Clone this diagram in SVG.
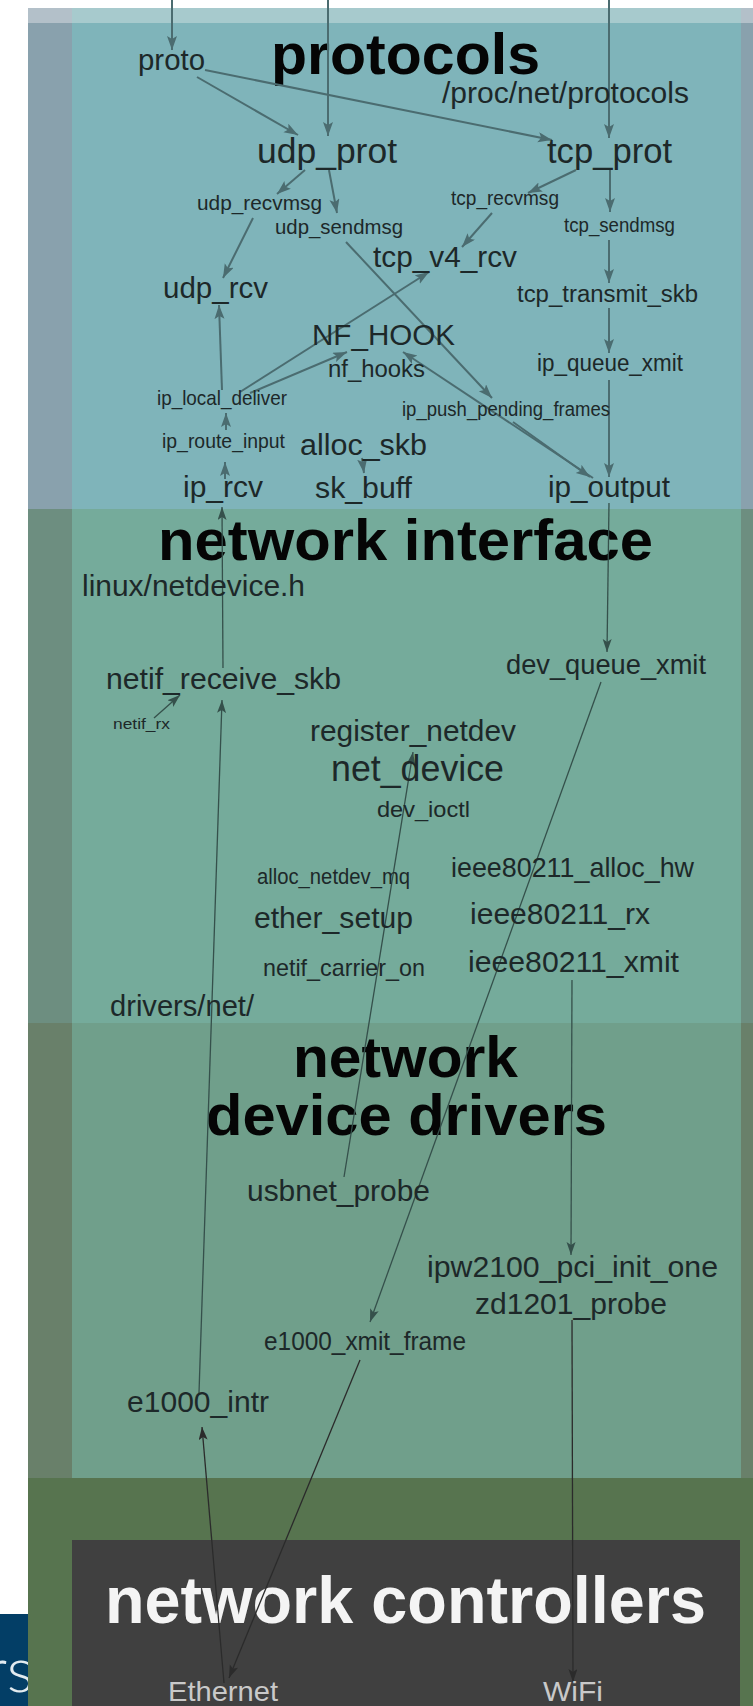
<svg xmlns="http://www.w3.org/2000/svg" width="753" height="1706" viewBox="0 0 753 1706">
  <defs>
    <style>
      text { font-family: "Liberation Sans", Arial, sans-serif; fill: #1d2829; }
      .title { font-weight: bold; fill: #050505; }
      .ctl { font-weight: bold; fill: #f4f4f4; }
      .hw { fill: #c9c9c9; }
      .side { font-family: Lato, "Open Sans", "Liberation Sans", sans-serif; font-weight: 300; fill: #e3ebf0; }
      .c1 { fill: none; stroke: #4b6c70; stroke-width: 2; }
      .c2 { fill: none; stroke: #35504b; stroke-width: 1.3; }
      .c3 { fill: none; stroke: #2b2b2b; stroke-width: 1.3; }
    </style>
    <marker id="ah1" markerUnits="userSpaceOnUse" markerWidth="16" markerHeight="12" refX="14" refY="5" orient="auto">
      <path d="M0,0 L14,5 L0,10 L3,5 z" fill="#4b6c70"/>
    </marker>
    <marker id="ah2" markerUnits="userSpaceOnUse" markerWidth="16" markerHeight="12" refX="13" refY="4.5" orient="auto">
      <path d="M0,0 L13,4.5 L0,9 L3,4.5 z" fill="#35504b"/>
    </marker>
    <marker id="ah3" markerUnits="userSpaceOnUse" markerWidth="16" markerHeight="12" refX="13" refY="4.5" orient="auto">
      <path d="M0,0 L13,4.5 L0,9 L3,4.5 z" fill="#2b2b2b"/>
    </marker>
    <clipPath id="sideClip"><rect x="0" y="1614" width="28" height="92"/></clipPath>
  </defs>

  <!-- page -->
  <rect x="0" y="0" width="753" height="1706" fill="#ffffff"/>

  <!-- layer bands: outer column and inner panel per layer -->
  <g id="layers">
    <rect x="28" y="8" width="725" height="15" fill="#b3c0c9"/>
    <rect x="72" y="8" width="669" height="15" fill="#a7cacd"/>
    <rect x="28" y="23" width="725" height="486" fill="#89a1ad"/>
    <rect x="72" y="23" width="669" height="486" fill="#7fb4ba"/>
    <rect x="28" y="509" width="725" height="514" fill="#6d8e80"/>
    <rect x="72" y="509" width="669" height="514" fill="#75ab9b"/>
    <rect x="28" y="1023" width="725" height="455" fill="#69806a"/>
    <rect x="72" y="1023" width="669" height="455" fill="#709f8b"/>
    <rect x="28" y="1478" width="725" height="228" fill="#57744f"/>
    <rect x="72" y="1540" width="668" height="166" fill="#404040"/>
    <rect x="0" y="1614" width="28" height="92" fill="#033e66"/>
    <text class="side" x="34" y="1692" font-size="64" text-anchor="end" clip-path="url(#sideClip)">rs</text>
  </g>

  <!-- layer titles -->
  <g id="t-protocols"><text class="title" x="271" y="74" font-size="58" textLength="269" lengthAdjust="spacingAndGlyphs">protocols</text></g>
  <g id="t-netif"><text class="title" x="158" y="560" font-size="58" textLength="495" lengthAdjust="spacingAndGlyphs">network interface</text></g>
  <g id="t-drivers">
    <text class="title" x="293" y="1077" font-size="58" textLength="225" lengthAdjust="spacingAndGlyphs">network</text>
    <text class="title" x="206" y="1135" font-size="58" textLength="401" lengthAdjust="spacingAndGlyphs">device drivers</text>
  </g>
  <g id="t-controllers"><text class="ctl" x="105" y="1623" font-size="66" textLength="601" lengthAdjust="spacingAndGlyphs">network controllers</text></g>

  <!-- connectors -->
  <g id="connectors">
    <line class="c1" x1="172" y1="0" x2="172" y2="50" marker-end="url(#ah1)"/>
    <line class="c1" x1="328" y1="0" x2="328" y2="136" marker-end="url(#ah1)"/>
    <line class="c1" x1="609" y1="0" x2="609" y2="138" marker-end="url(#ah1)"/>
    <line class="c1" x1="197" y1="77" x2="298" y2="135" marker-end="url(#ah1)"/>
    <line class="c1" x1="205" y1="70" x2="552" y2="140" marker-end="url(#ah1)"/>
    <line class="c1" x1="305" y1="170" x2="277" y2="194" marker-end="url(#ah1)"/>
    <line class="c1" x1="329" y1="170" x2="337" y2="213" marker-end="url(#ah1)"/>
    <line class="c1" x1="576" y1="170" x2="528" y2="193" marker-end="url(#ah1)"/>
    <line class="c1" x1="610" y1="170" x2="610" y2="212" marker-end="url(#ah1)"/>
    <line class="c1" x1="253" y1="218" x2="223" y2="278" marker-end="url(#ah1)"/>
    <line class="c1" x1="492" y1="213" x2="462" y2="247" marker-end="url(#ah1)"/>
    <line class="c1" x1="346" y1="242" x2="492" y2="398" marker-end="url(#ah1)"/>
    <line class="c1" x1="609" y1="240" x2="609" y2="283" marker-end="url(#ah1)"/>
    <line class="c1" x1="609" y1="308" x2="609" y2="353" marker-end="url(#ah1)"/>
    <line class="c1" x1="609" y1="380" x2="609" y2="477" marker-end="url(#ah1)"/>
    <line class="c1" x1="222" y1="390" x2="219" y2="305" marker-end="url(#ah1)"/>
    <line class="c1" x1="240" y1="392" x2="429" y2="272" marker-end="url(#ah1)"/>
    <line class="c1" x1="250" y1="393" x2="347" y2="352" marker-end="url(#ah1)"/>
    <line class="c1" x1="593" y1="478" x2="403" y2="352" marker-end="url(#ah1)"/>
    <line class="c1" x1="513" y1="422" x2="590" y2="477" marker-end="url(#ah1)"/>
    <line class="c1" x1="226" y1="430" x2="226" y2="413" marker-end="url(#ah1)"/>
    <line class="c1" x1="225" y1="479" x2="225" y2="462" marker-end="url(#ah1)"/>
    <line class="c1" x1="362" y1="458" x2="364" y2="473" marker-end="url(#ah1)"/>

    <line class="c2" x1="223" y1="668" x2="222" y2="507" marker-end="url(#ah2)"/>
    <line class="c2" x1="609" y1="503" x2="607" y2="652" marker-end="url(#ah2)"/>
    <line class="c2" x1="154" y1="718" x2="180" y2="695" marker-end="url(#ah2)"/>
    <line class="c2" x1="199" y1="1393" x2="222" y2="700" marker-end="url(#ah2)"/>
    <line class="c2" x1="601" y1="682" x2="370" y2="1322" marker-end="url(#ah2)"/>
    <line class="c2" x1="344" y1="1177" x2="413" y2="752" marker-end="url(#ah2)"/>
    <line class="c2" x1="572" y1="980" x2="571" y2="1255" marker-end="url(#ah2)"/>
    <line class="c3" x1="572" y1="1320" x2="573" y2="1682" marker-end="url(#ah3)"/>
    <line class="c3" x1="224" y1="1683" x2="202" y2="1427" marker-end="url(#ah3)"/>
    <line class="c3" x1="360" y1="1360" x2="229" y2="1678" marker-end="url(#ah3)"/>
  </g>

  <!-- protocol layer nodes -->
  <g id="n-proto"><text x="138" y="70" font-size="29" textLength="67" lengthAdjust="spacingAndGlyphs">proto</text></g>
  <g id="n-procnet"><text x="442" y="103" font-size="30" textLength="247" lengthAdjust="spacingAndGlyphs">/proc/net/protocols</text></g>
  <g id="n-udp_prot"><text x="257" y="163" font-size="35" textLength="140" lengthAdjust="spacingAndGlyphs">udp_prot</text></g>
  <g id="n-tcp_prot"><text x="547" y="163" font-size="35" textLength="125" lengthAdjust="spacingAndGlyphs">tcp_prot</text></g>
  <g id="n-udp_recvmsg"><text x="197" y="210" font-size="21" textLength="125" lengthAdjust="spacingAndGlyphs">udp_recvmsg</text></g>
  <g id="n-udp_sendmsg"><text x="275" y="234" font-size="21" textLength="128" lengthAdjust="spacingAndGlyphs">udp_sendmsg</text></g>
  <g id="n-tcp_recvmsg"><text x="451" y="205" font-size="20" textLength="108" lengthAdjust="spacingAndGlyphs">tcp_recvmsg</text></g>
  <g id="n-tcp_sendmsg"><text x="564" y="232" font-size="20" textLength="111" lengthAdjust="spacingAndGlyphs">tcp_sendmsg</text></g>
  <g id="n-tcp_v4_rcv"><text x="373" y="267" font-size="30" textLength="144" lengthAdjust="spacingAndGlyphs">tcp_v4_rcv</text></g>
  <g id="n-udp_rcv"><text x="163" y="298" font-size="30" textLength="105" lengthAdjust="spacingAndGlyphs">udp_rcv</text></g>
  <g id="n-tcp_transmit_skb"><text x="517" y="302" font-size="23" textLength="181" lengthAdjust="spacingAndGlyphs">tcp_transmit_skb</text></g>
  <g id="n-nf_hook"><text x="312" y="345" font-size="30" textLength="143" lengthAdjust="spacingAndGlyphs">NF_HOOK</text></g>
  <g id="n-nf_hooks"><text x="328" y="377" font-size="23" textLength="97" lengthAdjust="spacingAndGlyphs">nf_hooks</text></g>
  <g id="n-ip_queue_xmit"><text x="537" y="371" font-size="23" textLength="146" lengthAdjust="spacingAndGlyphs">ip_queue_xmit</text></g>
  <g id="n-ip_local_deliver"><text x="157" y="405" font-size="21" textLength="130" lengthAdjust="spacingAndGlyphs">ip_local_deliver</text></g>
  <g id="n-ip_push_pending_frames"><text x="402" y="416" font-size="20" textLength="208" lengthAdjust="spacingAndGlyphs">ip_push_pending_frames</text></g>
  <g id="n-ip_route_input"><text x="162" y="448" font-size="21" textLength="123" lengthAdjust="spacingAndGlyphs">ip_route_input</text></g>
  <g id="n-alloc_skb"><text x="300" y="455" font-size="30" textLength="127" lengthAdjust="spacingAndGlyphs">alloc_skb</text></g>
  <g id="n-ip_rcv"><text x="183" y="497" font-size="30" textLength="80" lengthAdjust="spacingAndGlyphs">ip_rcv</text></g>
  <g id="n-sk_buff"><text x="315" y="498" font-size="30" textLength="97" lengthAdjust="spacingAndGlyphs">sk_buff</text></g>
  <g id="n-ip_output"><text x="548" y="497" font-size="30" textLength="122" lengthAdjust="spacingAndGlyphs">ip_output</text></g>

  <!-- network interface layer nodes -->
  <g id="n-netdevice_h"><text x="82" y="596" font-size="30" textLength="223" lengthAdjust="spacingAndGlyphs">linux/netdevice.h</text></g>
  <g id="n-netif_receive_skb"><text x="106" y="689" font-size="30" textLength="235" lengthAdjust="spacingAndGlyphs">netif_receive_skb</text></g>
  <g id="n-dev_queue_xmit"><text x="506" y="674" font-size="28" textLength="200" lengthAdjust="spacingAndGlyphs">dev_queue_xmit</text></g>
  <g id="n-netif_rx"><text x="113" y="729" font-size="15" textLength="57" lengthAdjust="spacingAndGlyphs">netif_rx</text></g>
  <g id="n-register_netdev"><text x="310" y="741" font-size="30" textLength="206" lengthAdjust="spacingAndGlyphs">register_netdev</text></g>
  <g id="n-net_device"><text x="331" y="781" font-size="36" textLength="173" lengthAdjust="spacingAndGlyphs">net_device</text></g>
  <g id="n-dev_ioctl"><text x="377" y="817" font-size="22" textLength="93" lengthAdjust="spacingAndGlyphs">dev_ioctl</text></g>
  <g id="n-alloc_netdev_mq"><text x="257" y="884" font-size="22" textLength="153" lengthAdjust="spacingAndGlyphs">alloc_netdev_mq</text></g>
  <g id="n-ieee80211_alloc_hw"><text x="451" y="877" font-size="28" textLength="243" lengthAdjust="spacingAndGlyphs">ieee80211_alloc_hw</text></g>
  <g id="n-ether_setup"><text x="254" y="928" font-size="30" textLength="159" lengthAdjust="spacingAndGlyphs">ether_setup</text></g>
  <g id="n-ieee80211_rx"><text x="470" y="924" font-size="30" textLength="180" lengthAdjust="spacingAndGlyphs">ieee80211_rx</text></g>
  <g id="n-netif_carrier_on"><text x="263" y="976" font-size="24" textLength="162" lengthAdjust="spacingAndGlyphs">netif_carrier_on</text></g>
  <g id="n-ieee80211_xmit"><text x="468" y="972" font-size="30" textLength="211" lengthAdjust="spacingAndGlyphs">ieee80211_xmit</text></g>
  <g id="n-drivers_net"><text x="110" y="1016" font-size="30" textLength="144" lengthAdjust="spacingAndGlyphs">drivers/net/</text></g>

  <!-- device driver layer nodes -->
  <g id="n-usbnet_probe"><text x="247" y="1201" font-size="30" textLength="183" lengthAdjust="spacingAndGlyphs">usbnet_probe</text></g>
  <g id="n-ipw2100_pci_init_one"><text x="427" y="1277" font-size="30" textLength="291" lengthAdjust="spacingAndGlyphs">ipw2100_pci_init_one</text></g>
  <g id="n-zd1201_probe"><text x="475" y="1314" font-size="30" textLength="192" lengthAdjust="spacingAndGlyphs">zd1201_probe</text></g>
  <g id="n-e1000_xmit_frame"><text x="264" y="1350" font-size="25" textLength="202" lengthAdjust="spacingAndGlyphs">e1000_xmit_frame</text></g>
  <g id="n-e1000_intr"><text x="127" y="1412" font-size="30" textLength="142" lengthAdjust="spacingAndGlyphs">e1000_intr</text></g>

  <!-- controller nodes -->
  <g id="n-ethernet"><text class="hw" x="168" y="1701" font-size="28" textLength="110" lengthAdjust="spacingAndGlyphs">Ethernet</text></g>
  <g id="n-wifi"><text class="hw" x="543" y="1701" font-size="28" textLength="60" lengthAdjust="spacingAndGlyphs">WiFi</text></g>
</svg>
